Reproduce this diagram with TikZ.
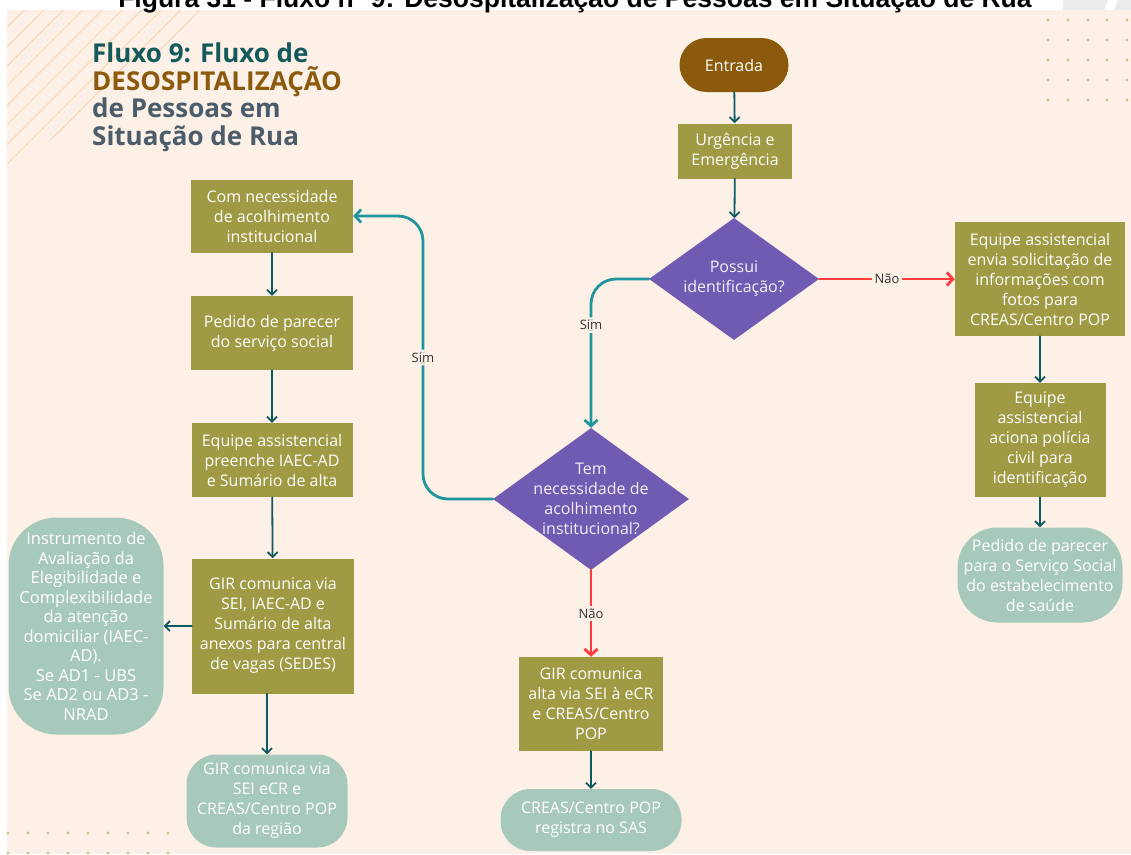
\documentclass[tikz,border=0pt]{standalone}
\usepackage{fontspec}
\setmainfont{Open Sans}
\newfontfamily\capfont{Liberation Sans}
\usetikzlibrary{arrows.meta,shapes.geometric,calc}

\definecolor{bgpeach}{HTML}{FDF0E7}
\definecolor{olive}{HTML}{A09A45}
\definecolor{mint}{HTML}{A7C9BB}
\definecolor{violet}{HTML}{6F5BB2}
\definecolor{brownc}{HTML}{8B5A0C}
\definecolor{darkteal}{HTML}{0E5A62}
\definecolor{simteal}{HTML}{1F959D}
\definecolor{naored}{HTML}{FF3B3B}
\definecolor{titleteal}{HTML}{145A5C}
\definecolor{slate}{HTML}{4B5C6B}
\definecolor{dotc}{HTML}{C9C28E}
\definecolor{hatchc}{HTML}{F6D3AC}

\begin{document}
\begin{tikzpicture}[
    x=1pt, y=-1pt,
    line cap=round,
    line join=round,
    font=\fontsize{16}{20}\selectfont,
    olivebox/.style 2 args={fill=olive, text=white, align=center, inner sep=0pt,
        minimum width=#1, minimum height=#2},
    mintbox/.style n args={3}{fill=mint, text=white, align=center, inner sep=0pt,
        rounded corners=#3, minimum width=#1, minimum height=#2},
    decision/.style 2 args={diamond, fill=violet, inner sep=0pt,
        minimum width=#1, minimum height=#2},
    dtext/.style={text=white!90!violet, align=center},
    flow/.style={draw=darkteal, line width=1.8pt, -{Straight Barb[length=5pt,width=10pt]}},
    simline/.style={draw=simteal, line width=2.8pt, rounded corners=25,
        -{Straight Barb[length=6pt,width=13pt]}},
    naoline/.style={draw=naored, line width=2.8pt, -{Straight Barb[length=6pt,width=13pt]}},
    lbl/.style={fill=bgpeach, text=black!80, inner sep=3pt, font=\fontsize{13}{15}\selectfont},
    ttl/.style={anchor=base west, inner sep=0pt, font=\fontsize{26}{28}\selectfont\bfseries}
]

% Page and background
\useasboundingbox (0,0) rectangle (1131,854);
\fill[bgpeach] (7,10) rectangle (1131,854);
\node[anchor=base, inner sep=0pt, font=\capfont\bfseries\fontsize{26.5}{30}\selectfont] (caption) at (575,7)
    {Figura 31 - Fluxo nº 9: Desospitalização de Pessoas em Situação de Rua};
\fill[black!8] (1063,0) -- (1108,0) -- (1104,10) -- (1063,10) -- cycle;
\fill[black!8] (1118,0) -- (1131,0) -- (1131,10) -- (1114,10) -- cycle;

% Hatching top left
\begin{scope}
    \clip (7,10) -- (210,10) -- (7,175) -- cycle;
    \foreach \k in {0,...,12}
        \draw[hatchc, line width=0.9pt] ({5+\k*19.5},10) -- ({5+\k*19.5-220},230);
\end{scope}

% Dots
\foreach \cx in {1048,1068,1088,1107,1127}
    \foreach \cy in {20,40,60,80,100}
        \fill[dotc] (\cx,\cy) circle (1.7);
\foreach \cx in {8,28,...,168}
    \foreach \cy in {833,853}
        \fill[dotc] (\cx,\cy) circle (1.7);

% Title
\node[ttl, text=titleteal] (ttl1) at (92,62) {Fluxo 9: Fluxo de};
\node[ttl, text=brownc] (ttl2) at (92,90) {DESOSPITALIZAÇÃO};
\node[ttl, text=slate] (ttl3) at (92,117) {de Pessoas em};
\node[ttl, text=slate] (ttl4) at (92,145) {Situação de Rua};

% Central column
\node[mintbox={109}{54}{27}, fill=brownc] (entrada) at (734,65) {Entrada};
\node[olivebox={114}{55}] (urg) at (735,151) {Urgência e\\Emergência};
\node[decision={170}{122}] (poss) at (734,279) {};
\node[dtext] at (poss) {Possui\\identificação?};
\node[decision={196}{142}] (tem) at (591,499) {};
\node[dtext] at (tem) {Tem\\necessidade de\\acolhimento\\institucional?};
\node[olivebox={144}{94}] (altacreas) at (591,704) {GIR comunica\\alta via SEI à eCR\\e CREAS/Centro\\POP};
\node[mintbox={181}{62}{30}] (sas) at (591,820) {CREAS/Centro POP\\registra no SAS};

% Right column
\node[olivebox={170}{114}] (envia) at (1040,279)
    {Equipe assistencial\\envia solicitação de\\informações com\\fotos para\\CREAS/Centro POP};
\node[olivebox={131}{114}] (policia) at (1040,440)
    {Equipe\\assistencial\\aciona polícia\\civil para\\identificação};
\node[mintbox={165}{95}{40}] (parecerss) at (1040,575)
    {Pedido de parecer\\para o Serviço Social\\do estabelecimento\\de saúde};

% Left column
\node[olivebox={162}{73}] (acolh) at (272,216) {Com necessidade\\de acolhimento\\institucional};
\node[olivebox={162}{74}] (pedido) at (272,333) {Pedido de parecer\\do serviço social};
\node[olivebox={161}{74}] (preenche) at (272,460) {Equipe assistencial\\preenche IAEC-AD\\e Sumário de alta};
\node[olivebox={162}{135}] (girsei) at (273,626)
    {GIR comunica via\\SEI, IAEC-AD e\\Sumário de alta\\anexos para central\\de vagas (SEDES)};
\node[mintbox={155}{217}{48}, font=\fontsize{16.5}{19.5}\selectfont] (iaec) at (86,626)
    {Instrumento de\\Avaliação da\\Elegibilidade e\\Complexibilidade\\da atenção\\domiciliar (IAEC-\\AD).\\Se AD1 - UBS\\Se AD2 ou AD3 -\\NRAD};
\node[mintbox={161}{93}{30}] (girreg) at (267,801)
    {GIR comunica via\\SEI eCR e\\CREAS/Centro POP\\da região};

% Corner of the left loop
\coordinate (simcorner) at (423,216);

% Connectors
\draw[flow] (entrada) -- (urg);
\draw[flow] (urg) -- (poss);
\draw[naoline] (poss.east) -- node[lbl] {Não} (envia.west);
\draw[simline] (poss.west) -| node[lbl, pos=0.655] {Sim} (tem.north);
\draw[flow] (envia) -- (policia);
\draw[flow] (policia) -- (parecerss);
\draw[simline] (tem.west) -| node[lbl, pos=0.75] {Sim} (simcorner) -- (acolh.east);
\draw[naoline] (tem.south) -- node[lbl] {Não} (altacreas.north);
\draw[flow] (altacreas) -- (sas);
\draw[flow] (acolh) -- (pedido);
\draw[flow] (pedido) -- (preenche);
\draw[flow] (preenche) -- (girsei);
\draw[flow] (girsei.west) -- (iaec.east);
\draw[flow] (girsei.south -| girreg.north) -- (girreg.north);

\end{tikzpicture}
\end{document}
